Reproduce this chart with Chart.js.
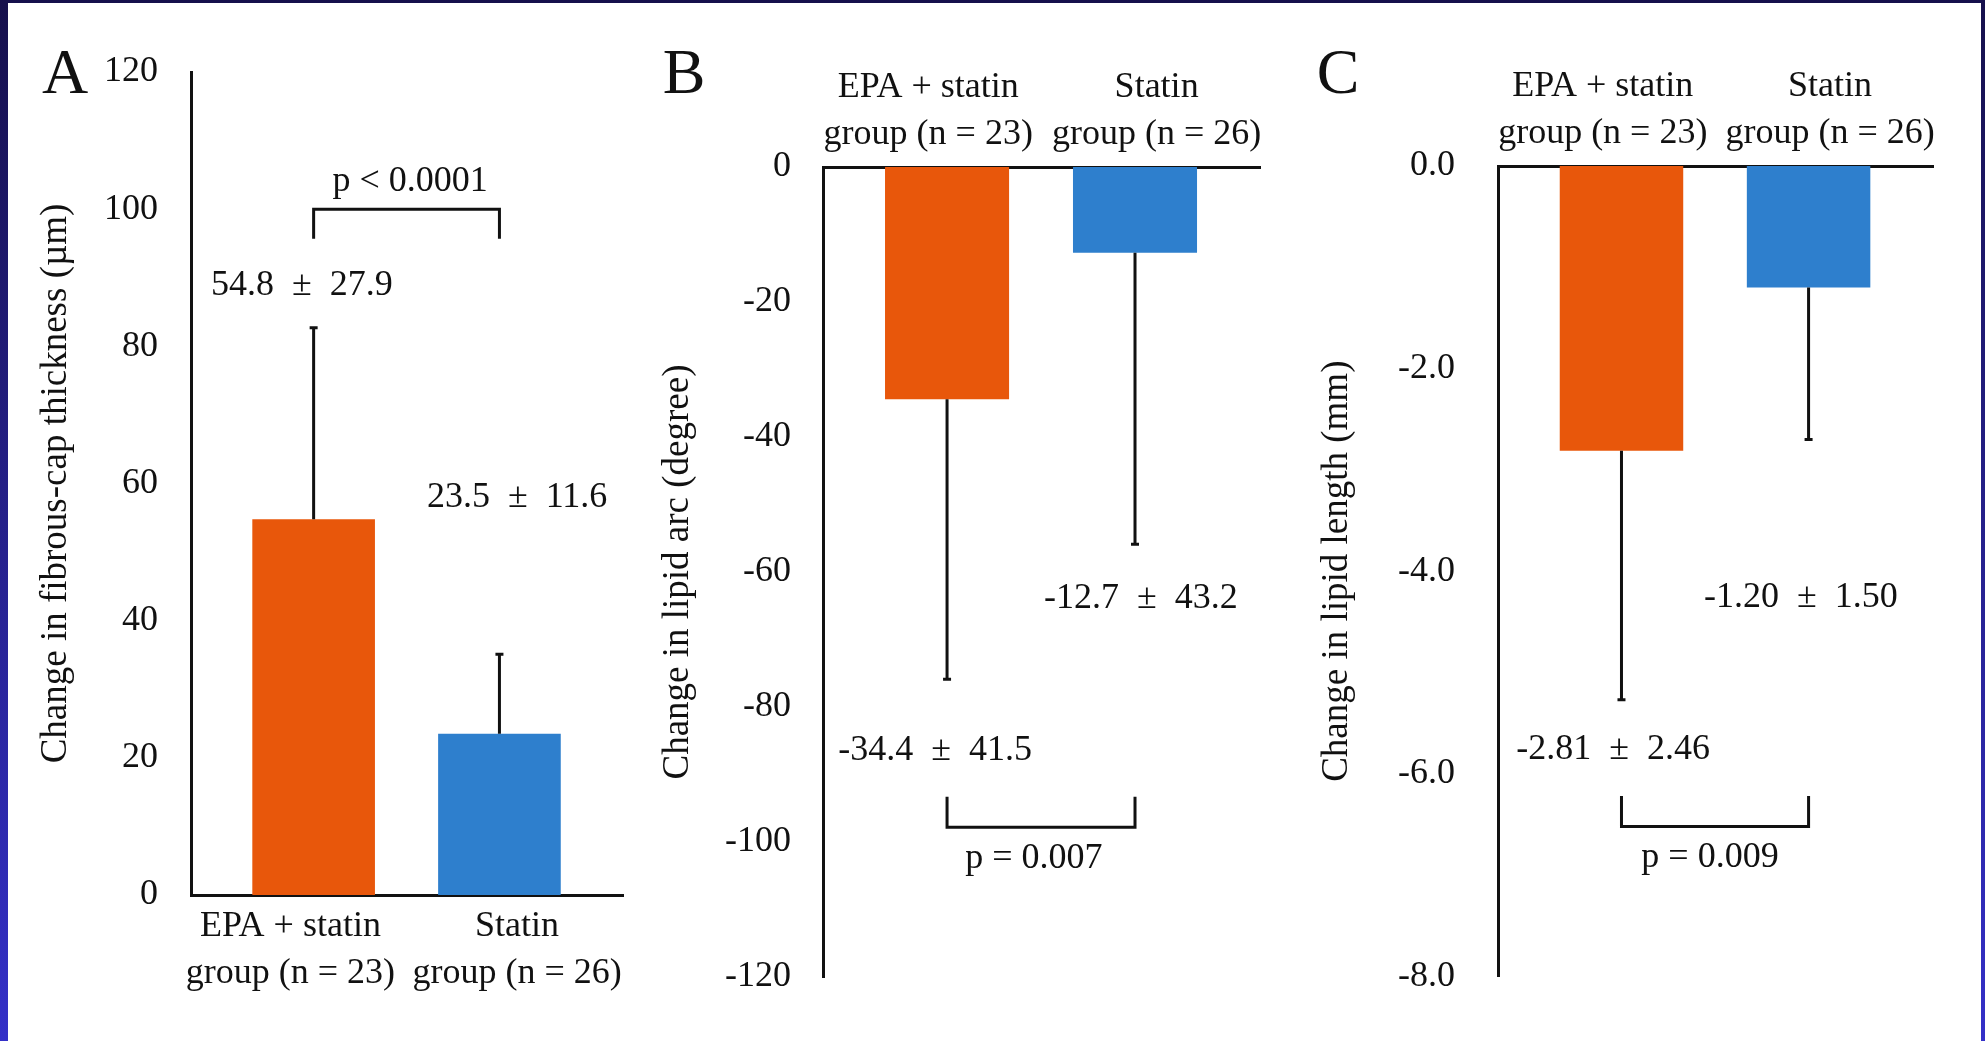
<!DOCTYPE html>
<html>
<head>
<meta charset="utf-8">
<script src="https://cdn.jsdelivr.net/npm/chart.js@4.4.1/dist/chart.umd.min.js"></script>
<style>
  body { margin: 0; width: 1985px; height: 1041px; overflow: hidden;
         background: linear-gradient(to bottom, #16104c, #3430c8); position: relative; }
  .sheet { position: absolute; left: 8px; top: 3px; width: 1973px; height: 1038px; background: #fff; }
  canvas { position: absolute; top: 0; }
</style>
</head>
<body>
<div class="sheet"></div>
<canvas id="chartA" width="650" height="1041" style="left:0px"></canvas>
<canvas id="chartB" width="675" height="1041" style="left:650px"></canvas>
<canvas id="chartC" width="685" height="1041" style="left:1300px"></canvas>
<script>
/*-------- DATA ---------------- */
const groups = [["EPA + statin", "group (n = 23)"], ["Statin", "group (n = 26)"]];

const capMean = [54.8, 23.5];
const capSD = [27.9, 11.6];
const arcMean = [-34.4, -12.7];
const arcSD = [41.5, 43.2];
const lenMean = [-2.81, -1.20];
const lenSD = [2.46, 1.50];

const capTicks = [0, 20, 40, 60, 80, 100, 120];
const arcTicks = [0, -20, -40, -60, -80, -100, -120];
const lenTicks = [0, -2, -4, -6, -8];

const pText = ["p < 0.0001", "p = 0.007", "p = 0.009"];

const barColors = ["#e8570b", "#2e7fcd"];
const ink = "#111";
const serif = "'Liberation Serif', 'Times New Roman', serif";

/*-------- ERROR BARS, BRACKET, NOTES ---------------- */
const panelMarks = {
  id: "panelMarks",
  afterDatasetsDraw(chart, args, o) {
    const { ctx, scales: { x, y } } = chart;
    ctx.save();
    ctx.strokeStyle = ink;
    ctx.lineWidth = 3;
    // error bars (one sided, away from zero)
    o.mean.forEach((m, i) => {
      const cx = x.getPixelForValue(i + 1);
      const y0 = y.getPixelForValue(m);
      const y1 = y.getPixelForValue(m + Math.sign(m) * o.sd[i]);
      ctx.beginPath();
      ctx.moveTo(cx, y0);
      ctx.lineTo(cx, y1);
      ctx.moveTo(cx - 4, y1);
      ctx.lineTo(cx + 4, y1);
      ctx.stroke();
    });
    // bracket between the two bars
    const bx1 = x.getPixelForValue(1), bx2 = x.getPixelForValue(2);
    const by = y.getPixelForValue(o.bracket.y), bt = y.getPixelForValue(o.bracket.tip);
    ctx.beginPath();
    ctx.moveTo(bx1, bt);
    ctx.lineTo(bx1, by);
    ctx.lineTo(bx2, by);
    ctx.lineTo(bx2, bt);
    ctx.stroke();
    // text notes
    ctx.fillStyle = ink;
    ctx.font = "36px " + serif;
    ctx.textAlign = "center";
    ctx.textBaseline = "middle";
    o.notes.forEach(n => {
      ctx.fillText(n.text, x.getPixelForValue(n.x), y.getPixelForValue(n.y));
    });
    // panel letter
    ctx.font = "64px " + serif;
    ctx.textBaseline = "alphabetic";
    ctx.fillText(o.letter.text, o.letter.x, o.letter.y);
    ctx.restore();
  }
};

function pm(mean, sd) {
  return mean.map((m, i) => {
    const d = Math.abs(m) < 10 ? 2 : 1;
    return m.toFixed(d) + "\u2002\u00b1\u2002" + sd[i].toFixed(d);
  });
}

function makePanel(id, cfg) {
  new Chart(document.querySelector(id).getContext("2d"), {
    type: "bar",
    data: {
      datasets: [{
        data: cfg.mean.map((m, i) => ({ x: i + 1, y: m })),
        backgroundColor: barColors,
        borderWidth: 0,
        categoryPercentage: 1,
        barPercentage: 0.66
      }]
    },
    options: {
      responsive: false,
      animation: false,
      layout: { padding: cfg.padding },
      plugins: {
        legend: { display: false },
        tooltip: { enabled: false },
        panelMarks: cfg.marks
      },
      scales: {
        x: {
          type: "linear",
          position: cfg.xPos,
          offset: false,
          min: 0.34,
          max: 2.665,
          z: 1,
          afterBuildTicks: axis => { axis.ticks = cfg.labelAt.map(v => ({ value: v })); },
          afterFit: axis => { axis.height = 110; },
          grid: { display: false, offset: false, drawTicks: false, tickLength: 0 },
          border: { display: true, color: ink, width: 3 },
          ticks: {
            color: ink,
            padding: cfg.xPad,
            maxRotation: 0,
            autoSkip: false,
            font: { family: serif, size: 36, lineHeight: 1.3 },
            callback: (v, i) => groups[i]
          }
        },
        y: {
          min: Math.min(...cfg.yTicks),
          max: Math.max(...cfg.yTicks),
          z: 1,
          afterBuildTicks: axis => { axis.ticks = cfg.yTicks.map(v => ({ value: v })); },
          afterFit: axis => { axis.width = cfg.yWidth; },
          grid: { display: false, drawTicks: false, tickLength: 0 },
          border: { display: true, color: ink, width: 3 },
          ticks: {
            color: ink,
            padding: cfg.yPad,
            font: { family: serif, size: 36 },
            callback: cfg.fmt
          },
          title: {
            display: true,
            text: cfg.title,
            color: ink,
            font: { family: serif, size: 37 },
            padding: { top: cfg.titlePad, bottom: 0 }
          }
        }
      }
    },
    plugins: [panelMarks]
  });
}

/*-------- PANEL A ---------------- */
const capNotes = pm(capMean, capSD);
makePanel("#chartA", {
  mean: capMean,
  yTicks: capTicks,
  fmt: v => v,
  title: "Change in fibrous-cap thickness (\u00b5m)",
  titlePad: 34,
  yWidth: 191,
  yPad: 33,
  xPos: "bottom",
  xPad: 8,
  labelAt: [0.875, 2.095],
  padding: { left: 0, right: 27, top: 72, bottom: 36 },
  marks: {
    mean: capMean, sd: capSD,
    bracket: { y: 100, tip: 95.7 },
    letter: { text: "A", x: 65, y: 93 },
    notes: [
      { text: capNotes[0], x: 0.937, y: 88.9 },
      { text: capNotes[1], x: 2.095, y: 58.0 },
      { text: pText[0], x: 1.519, y: 104.1 }
    ]
  }
});

/*-------- PANEL B ---------------- */
const arcNotes = pm(arcMean, arcSD);
makePanel("#chartB", {
  mean: arcMean,
  yTicks: arcTicks,
  fmt: v => v,
  title: "Change in lipid arc (degree)",
  titlePad: 6,
  yWidth: 173,
  yPad: 32,
  xPos: "top",
  xPad: 9,
  labelAt: [0.9, 2.115],
  padding: { left: 0, right: 65, top: 57, bottom: 64 },
  marks: {
    mean: arcMean, sd: arcSD,
    bracket: { y: -97.8, tip: -93.3 },
    letter: { text: "B", x: 34, y: 93 },
    notes: [
      { text: arcNotes[0], x: 0.936, y: -86.4 },
      { text: arcNotes[1], x: 2.031, y: -63.9 },
      { text: pText[1], x: 1.462, y: -102.5 }
    ]
  }
});

/*-------- PANEL C ---------------- */
const lenNotes = pm(lenMean, lenSD);
makePanel("#chartC", {
  mean: lenMean,
  yTicks: lenTicks,
  fmt: v => v.toFixed(1),
  title: "Change in lipid length (mm)",
  titlePad: 15,
  yWidth: 198,
  yPad: 43,
  xPos: "top",
  xPad: 9,
  labelAt: [0.9, 2.115],
  padding: { left: 0, right: 52, top: 56, bottom: 64 },
  marks: {
    mean: lenMean, sd: lenSD,
    bracket: { y: -6.52, tip: -6.22 },
    letter: { text: "C", x: 38, y: 93 },
    notes: [
      { text: lenNotes[0], x: 0.955, y: -5.76 },
      { text: lenNotes[1], x: 1.959, y: -4.26 },
      { text: pText[2], x: 1.473, y: -6.83 }
    ]
  }
});
</script>
</body>
</html>
